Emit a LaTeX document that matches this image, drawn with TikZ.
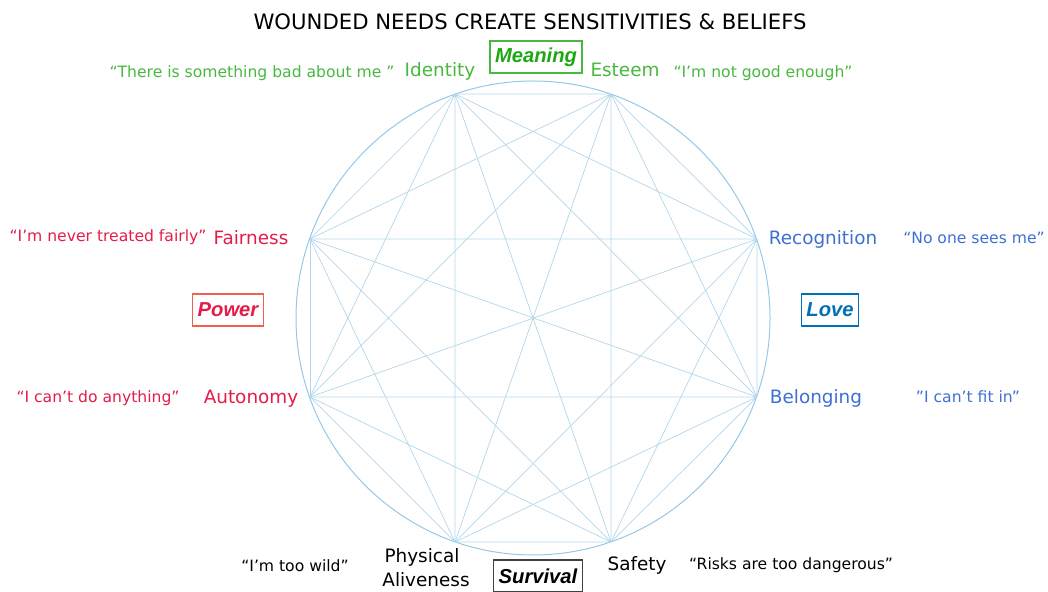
\documentclass[tikz,border=0pt]{standalone}
\usepackage{fontspec}
\setmainfont{DejaVu Sans}
\newfontfamily\groupfont{Liberation Sans}

\definecolor{webline}{RGB}{178,214,236}
\definecolor{webring}{RGB}{150,200,230}
\definecolor{meaninggreen}{RGB}{72,184,62}
\definecolor{meaningdark}{RGB}{28,168,20}
\definecolor{powerred}{RGB}{228,28,72}
\definecolor{powerframe}{RGB}{240,96,76}
\definecolor{loveblue}{RGB}{62,112,210}
\definecolor{lovedark}{RGB}{0,112,182}

\begin{document}
\begin{tikzpicture}[x=0.5pt, y=-0.5pt,
  web/.style={draw=webline, line width=0.35pt},
  need/.style={font=\fontsize{9.2}{11}\selectfont, text height=6.7pt, text depth=0pt, inner sep=0pt},
  belief/.style={font=\fontsize{7.8}{10}\selectfont, text height=5.7pt, text depth=0pt, inner sep=0pt},
  group/.style={draw, rectangle, line width=0.6pt, inner xsep=2.5pt, inner ysep=0pt, minimum height=16pt,
    font=\groupfont\fontsize{10.1}{12}\selectfont\bfseries\itshape}]

\useasboundingbox (0,0) rectangle (1048,592);

% figure title
\node[inner sep=0pt, text height=7.7pt, text depth=0pt] at (530, 22) (title) {\fontsize{10.6}{13}\selectfont WOUNDED NEEDS CREATE SENSITIVITIES \& BELIEFS};

% circle with the eight needs on it
\coordinate (ctr) at (533, 318);
\draw[draw=webring, line width=0.5pt] (ctr) circle[radius=237];
\coordinate (id) at (455,  94);
\coordinate (es) at (611,  94);
\coordinate (re) at (757, 239);
\coordinate (be) at (757, 397);
\coordinate (sa) at (611, 542);
\coordinate (pa) at (455, 542);
\coordinate (au) at (310, 397);
\coordinate (fa) at (310, 239);

% every need linked to every other need
\draw[web] (id) -- (es) (id) -- (re) (id) -- (be) (id) -- (sa) (id) -- (pa) (id) -- (au) (id) -- (fa);
\draw[web] (es) -- (re) (es) -- (be) (es) -- (sa) (es) -- (pa) (es) -- (au) (es) -- (fa);
\draw[web] (re) -- (be) (re) -- (sa) (re) -- (pa) (re) -- (au) (re) -- (fa);
\draw[web] (be) -- (sa) (be) -- (pa) (be) -- (au) (be) -- (fa);
\draw[web] (sa) -- (pa) (sa) -- (au) (sa) -- (fa);
\draw[web] (pa) -- (au) (pa) -- (fa);
\draw[web] (au) -- (fa);

% meaning
\node[group, draw=meaninggreen, text=meaningdark] at (536, 57) (meaning) {Meaning};
\node[need, text=meaninggreen] at (440, 70) (idtxt) {Identity};
\node[belief, text=meaninggreen] at (252, 72) (idq) {“There is something bad about me ”};
\node[need, text=meaninggreen] at (625, 70) (estxt) {Esteem};
\node[belief, text=meaninggreen] at (763, 72) (esq) {“I’m not good enough”};

% power
\node[group, draw=powerframe, text=powerred] at (228, 310) (power) {Power};
\node[need, text=powerred] at (251, 238) (fatxt) {Fairness};
\node[belief, text=powerred] at (108, 236) (faq) {“I’m never treated fairly”};
\node[need, text=powerred] at (251, 397) (autxt) {Autonomy};
\node[belief, text=powerred] at (98, 397) (auq) {“I can’t do anything”};

% love
\node[group, draw=lovedark, text=lovedark] at (830, 310) (love) {Love};
\node[need, text=loveblue] at (823, 238) (retxt) {Recognition};
\node[belief, text=loveblue] at (974, 238) (req) {“No one sees me”};
\node[need, text=loveblue] at (816, 397) (betxt) {Belonging};
\node[belief, text=loveblue] at (968, 397) (beq) {”I can’t fit in”};

% survival
\node[group, draw=black!75, text=black] at (538, 576) (survival) {Survival};
\node[need] at (422, 556) (patop) {Physical};
\node[need] at (426, 580) (pabot) {Aliveness};
\node[belief] at (295, 566) (paq) {“I’m too wild”};
\node[need] at (637, 564) (satxt) {Safety};
\node[belief] at (791, 564) (saq) {“Risks are too dangerous”};

\end{tikzpicture}
\end{document}
